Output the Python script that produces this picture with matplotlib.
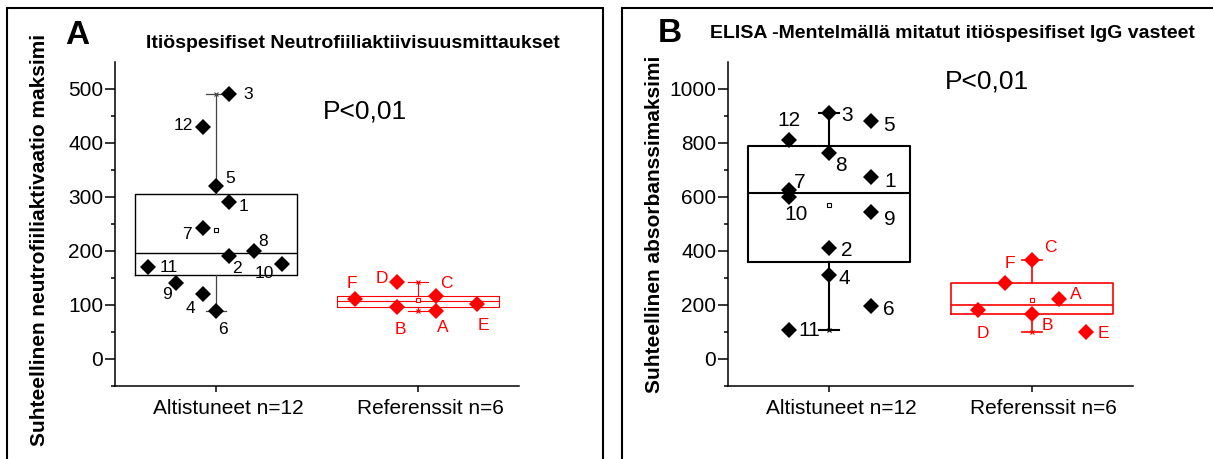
import numpy as np
import matplotlib.pyplot as plt
from matplotlib.patches import Rectangle
from matplotlib.transforms import ScaledTranslation

plt.rcParams['font.family'] = ['Liberation Sans', 'DejaVu Sans']

W, H = 1213, 459
RED = '#ff0000'

groups = ["Altistuneet n=12", "Referenssit n=6"]

# Panel A: neutrophil activation maxima
a_exp_ids = [str(i) for i in range(1, 13)]
a_exp_vals = [290, 191, 491, 120, 321, 88, 243, 200, 141, 176, 170, 430]
a_exp_jit = [0.065, 0.065, 0.065, -0.065, 0, 0, -0.065, 0.19, -0.2, 0.325, -0.335, -0.065]
a_ref_ids = list("ABCDEF")
a_ref_vals = [89, 97, 117, 143, 102, 111]
a_ref_jit = [0.09, -0.105, 0.09, -0.105, 0.29, -0.31]

# Panel B: ELISA IgG absorbance maxima
b_exp_ids = [str(i) for i in range(1, 13)]
b_exp_vals = [673, 410, 912, 311, 881, 196, 626, 764, 546, 601, 107, 811]
b_exp_jit = [0.205, 0, 0, 0, 0.205, 0.205, -0.2, 0, 0.205, -0.2, -0.2, -0.2]
b_ref_ids = list("ABCDEF")
b_ref_vals = [222, 167, 367, 181, 101, 280]
b_ref_jit = [0.135, 0, 0, -0.265, 0.27, -0.13]

# label offsets (pixels)
a_exp_off = [(14, -4), (8, -13), (19, -1), (-12, -14), (14, 7), (7, -18),
             (-16, -7), (9, 9), (-9, -12), (-17, -10), (20, 0), (-20, 1)]
a_ref_off = [(7, -17), (4, -23), (10, 12), (-15, 3), (7, -22), (-4, 16)]
b_exp_off = [(19, -4), (17, -2), (18, -3), (15, -3), (18, -4), (18, -3),
             (11, 7), (12, -13), (19, -8), (7, -18), (21, 0), (0, 20)]
b_ref_off = [(17, 5), (16, -12), (19, 12), (5, -23), (17, -2), (4, 20)]


def box_stats(v):
    s = np.sort(np.asarray(v, float))
    n = len(s)
    return dict(med=np.median(s), q1=np.median(s[:(n + 1) // 2]),
                q3=np.median(s[n // 2:]), whislo=s.min(), whishi=s.max(),
                mean=s.mean(), fliers=[])


def draw_group(ax, pos, vals, jit, ids, offs, color, lw, wlw, wcol, fs):
    st = box_stats(vals)
    ax.bxp([st], positions=[pos], widths=0.8, capwidths=0.1, showmeans=True,
           showfliers=False, manage_ticks=False,
           boxprops=dict(color=color, lw=lw),
           medianprops=dict(color=color, lw=lw),
           whiskerprops=dict(color=wcol, lw=wlw),
           capprops=dict(color=wcol, lw=wlw),
           meanprops=dict(marker='s', ms=3, mfc='white', mec=color, mew=0.8))
    ax.plot([pos, pos], [st['whislo'], st['whishi']], ls='none', marker='x',
            ms=3, mew=0.8, color=wcol, zorder=3)
    xs = pos + np.asarray(jit)
    ax.plot(xs, vals, ls='none', marker='D', ms=7.8, mew=0, color=color, zorder=5)
    for x, y, t, (dx, dy) in zip(xs, vals, ids, offs):
        ax.annotate(t, (x, y), xytext=(dx, dy), textcoords='offset pixels',
                    ha='center', va='center', fontsize=fs, color=color)


def style_axes(ax, ylim, major):
    ax.set_xlim(0.5, 2.5)
    ax.set_ylim(*ylim)
    ax.set_yticks(np.arange(0, ylim[1], major))
    ax.set_yticks(np.arange(-major / 2, ylim[1], major), minor=True)
    ax.set_xticks([1, 2])
    ax.set_xticklabels(groups)
    for s in ['top', 'right']:
        ax.spines[s].set_visible(False)
    for s in ['left', 'bottom']:
        ax.spines[s].set_linewidth(1.1)
    ax.tick_params(axis='y', which='major', length=7, width=1.1, pad=1.5, labelsize=15)
    ax.tick_params(axis='y', which='minor', length=3, width=1.1)
    ax.tick_params(axis='x', length=4, width=1.1, pad=5, labelsize=15)
    shift = ScaledTranslation(12 / 100, 0, ax.figure.dpi_scale_trans)
    for lab in ax.get_xticklabels():
        lab.set_transform(lab.get_transform() + shift)


fig = plt.figure(figsize=(W / 100, H / 100), dpi=100)


def fx(x, y):
    return x / W, 1 - y / H


for x0, x1 in [(7, 603), (622, 1300)]:
    fig.patches.append(Rectangle((x0 / W, -0.1), (x1 - x0) / W, 1.1 - 8 / H,
                                 transform=fig.transFigure, fill=False,
                                 lw=1.5, ec='black', clip_on=False))

axA = fig.add_axes([115 / W, 1 - 386 / H, 404 / W, 324 / H])
style_axes(axA, (-50, 550), 100)
draw_group(axA, 1, a_exp_vals, a_exp_jit, a_exp_ids, a_exp_off, 'black', 1.0, 0.9, '#444444', 12.5)
draw_group(axA, 2, a_ref_vals, a_ref_jit, a_ref_ids, a_ref_off, RED, 0.8, 0.8, RED, 12.5)

axB = fig.add_axes([728 / W, 1 - 386 / H, 405 / W, 324 / H])
style_axes(axB, (-100, 1100), 200)
draw_group(axB, 1, b_exp_vals, b_exp_jit, b_exp_ids, b_exp_off, 'black', 1.5, 1.5, 'black', 15)
draw_group(axB, 2, b_ref_vals, b_ref_jit, b_ref_ids, b_ref_off, RED, 1.2, 1.2, RED, 12.5)

fig.text(*fx(77, 35), "A", fontsize=24, fontweight='bold', ha='center', va='center')
fig.text(*fx(670, 34), "B", fontsize=24, fontweight='bold', ha='center', va='center')
fig.text(*fx(353, 43), "Itiöspesifiset Neutrofiiliaktiivisuusmittaukset",
         fontsize=14, fontweight='bold', ha='center', va='center')
fig.text(*fx(952, 33), "ELISA -Mentelmällä mitatut itiöspesifiset IgG vasteet",
         fontsize=14, fontweight='bold', ha='center', va='center')
fig.text(*fx(365, 112), "P<0,01", fontsize=19, ha='center', va='center')
fig.text(*fx(987, 82), "P<0,01", fontsize=19, ha='center', va='center')
fig.text(*fx(40, 240), "Suhteellinen neutrofiiliaktivaatio maksimi", fontsize=15,
         fontweight='bold', rotation=90, ha='center', va='center')
fig.text(*fx(655, 224), "Suhteellinen absorbanssimaksimi", fontsize=15,
         fontweight='bold', rotation=90, ha='center', va='center')

fig.savefig('out.png', dpi=100)
